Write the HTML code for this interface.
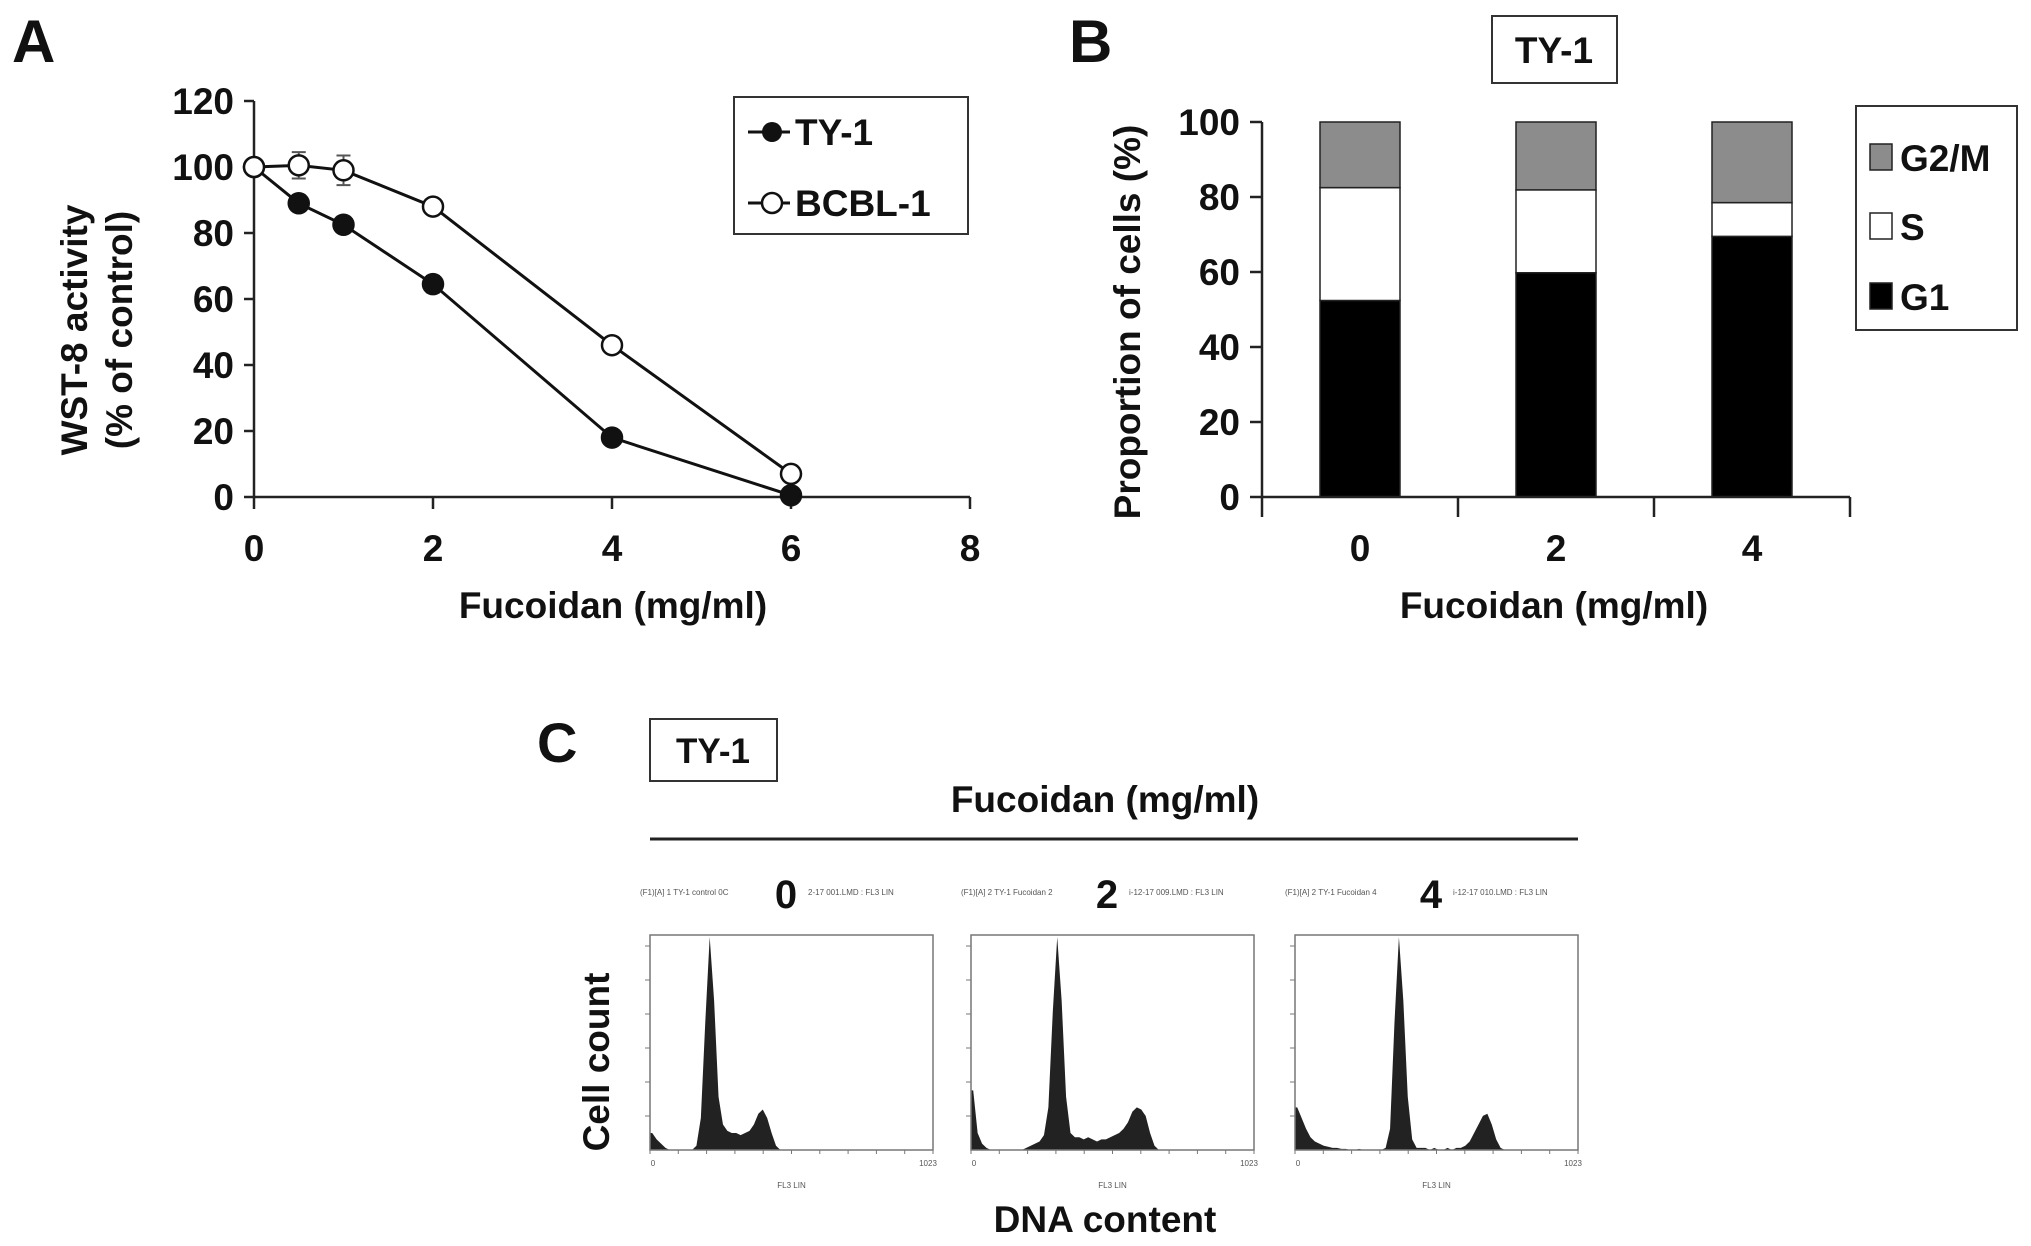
<!DOCTYPE html>
<html><head><meta charset="utf-8">
<style>
html,body{margin:0;padding:0;background:#fff;}
svg{display:block;font-family:"Liberation Sans",sans-serif;font-weight:bold;}
</style></head>
<body>
<svg id="fig" width="2031" height="1246" viewBox="0 0 2031 1246" xmlns="http://www.w3.org/2000/svg"></svg>
<script>
// ---- Panel A data ----
const aDoses = [0, 0.5, 1, 2, 4, 6];
const aTY1 = [100, 89, 82.5, 64.5, 18, 0.5];
const aBCBL1 = [100, 100.5, 99, 88, 46, 7];
const aBCBL1Err = [0, 4, 4.5, 2, 1.5, 1];
const aTY1Err = [0, 1.5, 1.5, 2.5, 1.5, 0.5];
const aYTicks = [0, 20, 40, 60, 80, 100, 120];
const aXTicks = [0, 2, 4, 6, 8];
// ---- Panel B data ----
const bCats = ["0", "2", "4"];
const bG1 = [52.4, 59.8, 69.5];
const bS = [30.1, 22.1, 9.0];
const bG2M = [17.5, 18.1, 21.5];
const bYTicks = [0, 20, 40, 60, 80, 100];
// ---- Panel C data (relative histogram heights, 64 bins) ----
const cDoses = ["0", "2", "4"];
const cHist0 = [0.08,0.05,0.03,0.01,0,0,0,0,0,0,0.02,0.15,0.6,1.0,0.7,0.25,0.12,0.09,0.08,0.08,0.07,0.08,0.09,0.12,0.17,0.19,0.15,0.08,0.02,0,0,0,0,0,0,0,0,0,0,0,0,0,0,0,0,0,0,0,0,0,0,0,0,0,0,0,0,0,0,0,0,0,0,0];
const cHist2 = [0.28,0.08,0.03,0.01,0,0,0,0,0,0,0,0,0.01,0.02,0.03,0.04,0.07,0.2,0.65,1.0,0.7,0.25,0.08,0.06,0.06,0.05,0.06,0.05,0.04,0.05,0.05,0.06,0.07,0.08,0.1,0.13,0.18,0.2,0.19,0.16,0.08,0.02,0,0,0,0,0,0,0,0,0,0,0,0,0,0,0,0,0,0,0,0,0,0];
const cHist4 = [0.2,0.15,0.1,0.06,0.04,0.03,0.02,0.015,0.01,0.01,0.005,0.005,0,0,0.005,0,0,0,0,0,0.01,0.1,0.6,1.0,0.7,0.25,0.05,0.01,0.01,0.01,0,0.01,0,0,0.01,0,0.01,0.01,0.02,0.04,0.08,0.12,0.16,0.17,0.12,0.05,0.01,0,0,0,0,0,0,0,0,0,0,0,0,0,0,0,0,0];
const cHists = [cHist0, cHist2, cHist4];

const NS = "http://www.w3.org/2000/svg";
const svg = document.getElementById('fig');
function mk(tag, attrs, parent, text){
  const e = document.createElementNS(NS, tag);
  for (const k in attrs) e.setAttribute(k, attrs[k]);
  if (text !== undefined) e.textContent = text;
  (parent || svg).appendChild(e);
  return e;
}
function txt(x,y,s,size,anchor,parent,extra){
  const a = {x:x,y:y,'font-size':size,'text-anchor':anchor||'middle',fill:'#111'};
  if (extra) for (const k in extra) a[k]=extra[k];
  return mk('text',a,parent,s);
}

// ================= Panel A =================
const gA = mk('g',{});


const ax0=254, ax1=970, ay0=497, ay1=101;
const xA = v => ax0 + (v-0)/(8-0)*(ax1-ax0);
const yA = v => ay0 - (v-0)/(120-0)*(ay0-ay1);
let t = txt(12,62,'A',60,'start',gA);  
let ax = mk('path',{d:`M${ax0},${ay1} V${ay0} H${ax1}`,stroke:'#222','stroke-width':2.5,fill:'none'},gA);
 
aYTicks.forEach(v=>{
  mk('line',{x1:ax0-10,x2:ax0,y1:yA(v),y2:yA(v),stroke:'#222','stroke-width':2.5},gA);
  const l = txt(ax0-20,yA(v)+13,String(v),37,'end',gA);
   
});
aXTicks.forEach(v=>{
  mk('line',{x1:xA(v),x2:xA(v),y1:ay0,y2:ay0+12,stroke:'#222','stroke-width':2.5},gA);
  const l = txt(xA(v),ay0+64,String(v),37,'middle',gA);
   
});
t = txt(613,618,'Fucoidan (mg/ml)',37,'middle',gA);  
t = txt(0,0,'WST-8 activity',37,'middle',gA,{transform:'translate(87,330) rotate(-90)'});  
t = txt(0,0,'(% of control)',37,'middle',gA,{transform:'translate(132,330) rotate(-90)'});  

function series(vals, errs, filled, name){
  const g = mk('g',{},gA);
  
  
  const d = vals.map((v,i)=>(i?'L':'M')+xA(aDoses[i])+','+yA(v)).join(' ');
  mk('path',{d:d,stroke:'#111','stroke-width':3,fill:'none'},g);
  vals.forEach((v,i)=>{
    if (errs[i]>0){
      const x=xA(aDoses[i]);
      mk('path',{d:`M${x},${yA(v+errs[i])} V${yA(v-errs[i])} M${x-7},${yA(v+errs[i])} H${x+7} M${x-7},${yA(v-errs[i])} H${x+7}`,stroke:'#555','stroke-width':2,fill:'none'},g);
    }
    const c = mk('circle',{cx:xA(aDoses[i]),cy:yA(v),r:10,fill:filled?'#111':'#fff',stroke:'#111','stroke-width':2.5},g);
    
    
  });
}
series(aTY1,aTY1Err,true,'series-ty-1');
series(aBCBL1,aBCBL1Err,false,'series-bcbl-1');

const legA = mk('g',{},gA);


mk('rect',{x:734,y:97,width:234,height:137,fill:'#fff',stroke:'#333','stroke-width':2},legA);
mk('line',{x1:748,x2:790,y1:132,y2:132,stroke:'#111','stroke-width':3},legA);
mk('circle',{cx:772,cy:132,r:10,fill:'#111'},legA);
t = txt(795,145,'TY-1',37,'start',legA);  
mk('line',{x1:748,x2:790,y1:203,y2:203,stroke:'#111','stroke-width':3},legA);
mk('circle',{cx:772,cy:203,r:10,fill:'#fff',stroke:'#111','stroke-width':2.5},legA);
t = txt(795,216,'BCBL-1',37,'start',legA);  

// ================= Panel B =================
const gB = mk('g',{});


const bx0=1262, bx1=1850, by0=497, by1=122;
const yB = v => by0 - v/100*(by0-by1);
const bw = (bx1-bx0)/bCats.length;
const xB = i => bx0 + bw*(i+0.5);
t = txt(1069,62,'B',60,'start',gB);  
const tb = mk('g',{},gB);
 
mk('rect',{x:1492,y:16,width:125,height:67,fill:'#fff',stroke:'#333','stroke-width':2},tb);
txt(1554,63,'TY-1',37,'middle',tb);
bCats.forEach((c,i)=>{
  const x = xB(i)-40;
  const segs = [[0,bG1[i],'#000','bar-g1'],[bG1[i],bG1[i]+bS[i],'#fff','bar-s'],[bG1[i]+bS[i],bG1[i]+bS[i]+bG2M[i],'#8c8c8c','bar-g2m']];
  segs.forEach(s=>{
    const r = mk('rect',{x:x,y:yB(s[1]),width:80,height:yB(s[0])-yB(s[1]),fill:s[2],stroke:'#222','stroke-width':1.5},gB);
    
    
  });
  const l = txt(xB(i),by0+64,c,37,'middle',gB);
   
});
ax = mk('path',{d:`M${bx0},${by1} V${by0} H${bx1}`,stroke:'#222','stroke-width':2.5,fill:'none'},gB);
 
for (let i=0;i<=bCats.length;i++) mk('line',{x1:bx0+bw*i,x2:bx0+bw*i,y1:by0,y2:by0+20,stroke:'#222','stroke-width':2.5},gB);
bYTicks.forEach(v=>{
  mk('line',{x1:bx0-12,x2:bx0,y1:yB(v),y2:yB(v),stroke:'#222','stroke-width':2.5},gB);
  const l = txt(bx0-22,yB(v)+13,String(v),37,'end',gB);
   
});
t = txt(1554,618,'Fucoidan (mg/ml)',37,'middle',gB);  
t = txt(0,0,'Proportion of cells (%)',37,'middle',gB,{transform:'translate(1140,322) rotate(-90)'});  
const legB = mk('g',{},gB);
 
mk('rect',{x:1856,y:106,width:161,height:224,fill:'#fff',stroke:'#333','stroke-width':2},legB);
[['G2/M','#8c8c8c',158],['S','#fff',227],['G1','#000',297]].forEach(e=>{
  mk('rect',{x:1870,y:e[2]-14,width:22,height:26,fill:e[1],stroke:'#222','stroke-width':1.5},legB);
  const l = txt(1900,e[2]+13,e[0],37,'start',legB);
   
});

// ================= Panel C =================
const gC = mk('g',{});


t = txt(537,762,'C',56,'start',gC);  
const tc = mk('g',{},gC);
 
mk('rect',{x:650,y:719,width:127,height:62,fill:'#fff',stroke:'#333','stroke-width':2},tc);
txt(713,763,'TY-1',35,'middle',tc);
t = txt(1105,812,'Fucoidan (mg/ml)',37,'middle',gC);  
mk('line',{x1:650,x2:1578,y1:839,y2:839,stroke:'#222','stroke-width':3},gC);
t = txt(0,0,'Cell count',37,'middle',gC,{transform:'translate(609,1062) rotate(-90)'});  
t = txt(1105,1232,'DNA content',37,'middle',gC);  
const boxX = [650, 971, 1295];
const numX = [786, 1107, 1431];
const hdrL = ['(F1)[A] 1 TY-1 control 0C','(F1)[A] 2 TY-1 Fucoidan 2','(F1)[A] 2 TY-1 Fucoidan 4'];
const hdrR = ['2-17 001.LMD : FL3 LIN','i-12-17 009.LMD : FL3 LIN','i-12-17 010.LMD : FL3 LIN'];
const bw3=283, by3a=935, by3b=1150;
cHists.forEach((h,k)=>{
  const g = mk('g',{},gC);
  
  
  const x0 = boxX[k];
  const xC = i => x0 + (i+0.5)/h.length*bw3;
  const yC = v => by3b - v*(by3b-by3a-2);
  let d = `M${x0},${by3b} L${x0},${yC(h[0])}`;
  h.forEach((v,i)=>{ d += ` L${xC(i)},${yC(v)}`; });
  d += ` L${x0+bw3},${by3b} Z`;
  mk('path',{d:d,fill:'#222',stroke:'none'},g);
  mk('rect',{x:x0,y:by3a,width:bw3,height:by3b-by3a,fill:'none',stroke:'#777','stroke-width':1.5},g);
  for (let i=0;i<=10;i++) mk('line',{x1:x0+i*bw3/10,x2:x0+i*bw3/10,y1:by3b,y2:by3b+4,stroke:'#777','stroke-width':1},g);
  for (let i=1;i<=6;i++) mk('line',{x1:x0-5,x2:x0,y1:by3b-i*34,y2:by3b-i*34,stroke:'#777','stroke-width':1},g);
  txt(x0+3,by3b+16,'0',8,'middle',g,{'font-weight':'normal',fill:'#555'});
  txt(x0+bw3-5,by3b+16,'1023',8,'middle',g,{'font-weight':'normal',fill:'#555'});
  txt(x0+bw3/2,1188,'FL3 LIN',8,'middle',g,{'font-weight':'normal',fill:'#555'});
  txt(x0-10,895,hdrL[k],8,'start',g,{'font-weight':'normal',fill:'#555'});
  txt(numX[k]+22,895,hdrR[k],8,'start',g,{'font-weight':'normal',fill:'#555'});
  const n = txt(numX[k],908,cDoses[k],40,'middle',g);
  
  
});
</script>
</body></html>
